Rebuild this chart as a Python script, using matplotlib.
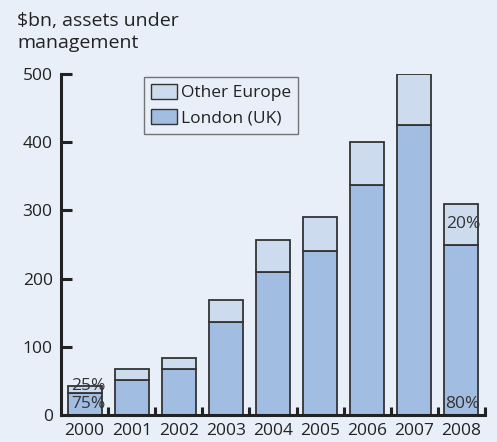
import matplotlib
matplotlib.use("Agg")
import matplotlib.pyplot as plt
from matplotlib.patches import Patch

years = ["2000", "2001", "2002", "2003", "2004", "2005", "2006", "2007", "2008"]
london = [32, 52, 67, 136, 210, 241, 337, 425, 250]
total = [42, 67, 84, 168, 256, 290, 400, 500, 310]
other = [t - l for t, l in zip(total, london)]
yticks = [0, 100, 200, 300, 400, 500]

bg = "#e9eff8"
c_london = "#a2bde2"
c_other = "#cddbef"
edge = "#333333"
txt = "#222222"

plt.rcParams['font.family'] = ['Open Sans', 'DejaVu Sans']

fig = plt.figure(figsize=(4.97, 4.42), dpi=100, facecolor=bg)
ax = fig.add_axes([61/497, 1-415/442, (485-61)/497, (415-74)/442])
ax.set_facecolor(bg)

x = list(range(len(years)))
w = 0.72
ax.bar(x, london, width=w, color=c_london, edgecolor=edge, linewidth=1.3, zorder=3)
ax.bar(x, other, bottom=london, width=w, color=c_other, edgecolor=edge, linewidth=1.3, zorder=3)

ax.set_xlim(-0.5, 8.5)
ax.set_ylim(0, 500)
for s in ["top", "right"]:
    ax.spines[s].set_visible(False)
for s in ["left", "bottom"]:
    ax.spines[s].set_linewidth(2.2)
    ax.spines[s].set_color("#222222")
    ax.spines[s].set_zorder(5)

fs = 12.5
ax.set_yticks(yticks)
ax.set_yticklabels([str(v) for v in yticks], fontsize=fs, color=txt)
ax.tick_params(axis="y", direction="in", length=8, width=2.2, color="#222222", pad=6)

ax.set_xticks(x)
ax.set_xticklabels(years, fontsize=fs, color=txt)
ax.tick_params(axis="x", length=0, pad=6)
ax.set_xticks([i + 0.5 for i in x], minor=True)
ax.tick_params(axis="x", which="minor", direction="in", length=6, width=2.2, color="#222222")

# percentage annotations
pc = "#333333"
ax.text(0.08, 42.5, "25%", ha="center", va="center", fontsize=fs, color=pc, zorder=6)
ax.text(0.08, 16, "75%", ha="center", va="center", fontsize=fs, color=pc, zorder=6)
ax.text(8.05, (london[8] + total[8]) / 2, "20%", ha="center", va="center", fontsize=fs, color=pc, zorder=6)
ax.text(8.02, 16, "80%", ha="center", va="center", fontsize=fs, color=pc, zorder=6)

handles = [Patch(facecolor=c_other, edgecolor=edge, label="Other Europe"),
           Patch(facecolor=c_london, edgecolor=edge, label="London (UK)")]
leg = ax.legend(handles=handles, loc="upper left", bbox_to_anchor=(83/424, 1-3/341),
                prop={'size': fs}, frameon=True, fancybox=False, handlelength=1.5,
                handleheight=0.95, handletextpad=0.25, borderpad=0.4, labelspacing=0.45,
                borderaxespad=0)
leg.get_frame().set_facecolor(bg)
leg.get_frame().set_edgecolor("#555555")
leg.get_frame().set_linewidth(1.0)
for t in leg.get_texts():
    t.set_color(txt)

fig.text(17/497, 1-12/442, "$bn, assets under\nmanagement", ha="left", va="top",
         fontsize=14, color=txt, linespacing=1.25)

fig.savefig("out.png", dpi=100, facecolor=bg)
